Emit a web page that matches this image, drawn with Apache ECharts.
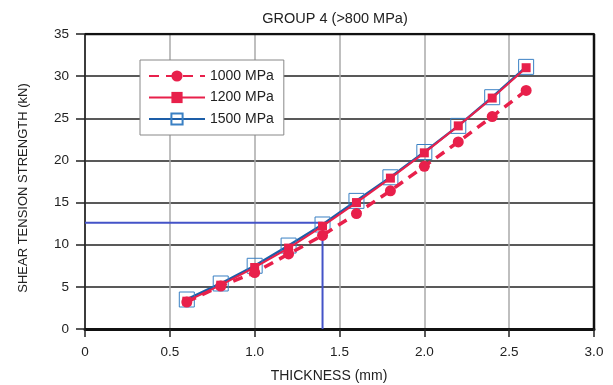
<!DOCTYPE html>
<html><head><meta charset="utf-8">
<script src="https://cdn.jsdelivr.net/npm/echarts@6/dist/echarts.min.js"></script>
<style>html,body{margin:0;padding:0;background:#fff}#c{width:613px;height:385px}</style>
</head><body><div id="c"></div>
<script>
const thickness = [0.6, 0.8, 1.0, 1.2, 1.4, 1.6, 1.8, 2.0, 2.2, 2.4, 2.6];
const s1000 = [3.2, 5.1, 6.7, 8.9, 11.1, 13.7, 16.4, 19.3, 22.2, 25.2, 28.3];
const s1200 = [3.3, 5.2, 7.3, 9.6, 12.2, 15.0, 17.9, 20.9, 24.1, 27.4, 31.0];
const s1500 = [3.5, 5.4, 7.5, 9.9, 12.4, 15.2, 18.0, 21.0, 24.1, 27.5, 31.1];
const refX = 1.4, refY = 12.6;
const names = ['1000 MPa', '1200 MPa', '1500 MPa'];
const font = 'Liberation Sans, Arial, sans-serif';
const red = '#e8204b', blue = '#1d5ea8';
const pairs = a => thickness.map((x, i) => [x, a[i]]);

const chart = echarts.init(document.getElementById('c'));
chart.setOption({
  animation: false,
  title: { text: 'GROUP 4 (>800 MPa)', left: 330, top: 6, textAlign: 'center',
    textStyle: { fontFamily: font, fontSize: 14.5, fontWeight: 'normal', color: '#222' } },
  grid: { left: 85, right: 19, top: 34, bottom: 56, outerBoundsMode: 'none', containLabel: false },
  legend: {
    data: names, orient: 'vertical', left: 140, top: 60,
    backgroundColor: '#fff', borderColor: '#888', borderWidth: 1,
    padding: [9, 10, 9, 8], itemGap: 7.5, itemWidth: 56, itemHeight: 14,
    textStyle: { fontFamily: font, fontSize: 14, color: '#222' }
  },
  xAxis: {
    type: 'value', min: 0, max: 3, interval: 0.5,
    name: 'THICKNESS (mm)', nameLocation: 'middle', nameGap: 40,
    nameTextStyle: { fontFamily: font, fontSize: 14, color: '#222', padding: [0, 21, 0, 0] },
    axisLine: { show: true, lineStyle: { color: '#111', width: 3 } },
    axisTick: { show: true, inside: false, length: 8, lineStyle: { color: '#222', width: 1.5 } },
    axisLabel: { fontFamily: font, fontSize: 13.5, color: '#222', margin: 16,
      formatter: v => v === 0 ? '0' : v.toFixed(1) },
    splitLine: { show: true, lineStyle: { color: '#aaa', width: 1.5 } }
  },
  yAxis: {
    type: 'value', min: 0, max: 35, interval: 5,
    name: 'SHEAR TENSION STRENGTH (kN)', nameLocation: 'middle', nameGap: 55,
    nameTextStyle: { fontFamily: font, fontSize: 13, color: '#222', padding: [0, 13, 0, 0] },
    axisLine: { show: true, lineStyle: { color: '#111', width: 1.5 } },
    axisTick: { show: true, inside: false, length: 9, lineStyle: { color: '#222', width: 1.5 } },
    axisLabel: { fontFamily: font, fontSize: 13.5, color: '#222', margin: 16 },
    splitLine: { show: true, lineStyle: { color: '#222', width: 1.5 } }
  },
  series: [
    { name: 'frame', type: 'line', data: [[0, 35], [3, 35], [3, 0]], symbol: 'none',
      lineStyle: { color: '#111', width: 2.5 }, silent: true, z: 1 },
    { name: 'ref', type: 'line', data: [[0, refY], [refX, refY], [refX, 0]], symbol: 'none',
      lineStyle: { color: '#4453c8', width: 2 }, silent: true, z: 2 },
    { name: names[2], type: 'line', data: pairs(s1500), symbol: 'rect', symbolSize: 15,
      itemStyle: { color: 'rgba(255,255,255,0)', borderColor: '#3a80c4', borderWidth: 1 },
      lineStyle: { color: blue, width: 2.5 }, z: 3 },
    { name: names[1], type: 'line', data: pairs(s1200), symbol: 'rect', symbolSize: 9,
      itemStyle: { color: red }, lineStyle: { color: red, width: 2 }, z: 4 },
    { name: names[0], type: 'line', data: pairs(s1000), symbol: 'circle', symbolSize: 11,
      itemStyle: { color: red }, lineStyle: { color: red, width: 3.5, type: [10, 7] }, z: 5 }
  ]
});
</script></body></html>
